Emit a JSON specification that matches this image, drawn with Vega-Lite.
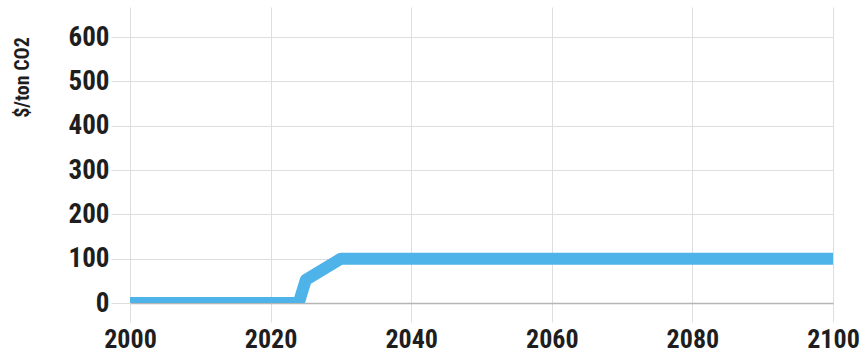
{
  "$schema": "https://vega.github.io/schema/vega-lite/v6.json",
  "autosize": "none",
  "width": 703,
  "height": 296,
  "padding": {"left": 130, "top": 7, "right": 32, "bottom": 49},
  "background": "#ffffff",
  "config": {
    "view": {"stroke": null},
    "font": "Roboto Condensed, Liberation Sans Narrow, Roboto"
  },
  "data": {
    "values": [
      {"year": 2000, "price": 0},
      {"year": 2005, "price": 0},
      {"year": 2010, "price": 0},
      {"year": 2015, "price": 0},
      {"year": 2020, "price": 0},
      {"year": 2024, "price": 0},
      {"year": 2025, "price": 52},
      {"year": 2030, "price": 100},
      {"year": 2040, "price": 100},
      {"year": 2050, "price": 100},
      {"year": 2060, "price": 100},
      {"year": 2070, "price": 100},
      {"year": 2080, "price": 100},
      {"year": 2090, "price": 100},
      {"year": 2100, "price": 100}
    ]
  },
  "mark": {
    "type": "line",
    "color": "#4db3e8",
    "strokeWidth": 12,
    "strokeCap": "butt",
    "strokeJoin": "round",
    "clip": true
  },
  "encoding": {
    "x": {
      "field": "year",
      "type": "quantitative",
      "scale": {"domain": [2000, 2100], "nice": false, "zero": false},
      "axis": {
        "values": [2000, 2020, 2040, 2060, 2080, 2100],
        "format": "d",
        "title": null,
        "grid": true,
        "gridColor": "#dedede",
        "domain": true,
        "domainColor": "#b5b5b5",
        "domainWidth": 1.5,
        "ticks": true,
        "tickSize": 19,
        "tickColor": "#dedede",
        "labelPadding": 4,
        "labelFont": "Roboto Condensed, Liberation Sans Narrow, Roboto",
        "labelFontSize": 26,
        "labelFontWeight": "bold",
        "labelColor": "#1e1e1e",
        "labelFlush": false,
        "labelOverlap": false
      }
    },
    "y": {
      "field": "price",
      "type": "quantitative",
      "scale": {"domain": [0, 668], "nice": false},
      "axis": {
        "values": [0, 100, 200, 300, 400, 500, 600],
        "title": "$/ton CO2",
        "titleFont": "Roboto Condensed, Liberation Sans Narrow, Roboto",
        "titleFontSize": 20,
        "titleFontWeight": "bold",
        "titleColor": "#1e1e1e",
        "titleAngle": -90,
        "titleAlign": "center",
        "titleBaseline": "middle",
        "titleX": -108,
        "titleY": 70,
        "grid": true,
        "gridColor": "#dedede",
        "domain": false,
        "ticks": true,
        "tickSize": 19,
        "tickColor": "#dedede",
        "labelPadding": 2,
        "labelFont": "Roboto Condensed, Liberation Sans Narrow, Roboto",
        "labelFontSize": 27,
        "labelFontWeight": "bold",
        "labelColor": "#1e1e1e",
        "labelFlush": false,
        "labelOverlap": false
      }
    }
  }
}
